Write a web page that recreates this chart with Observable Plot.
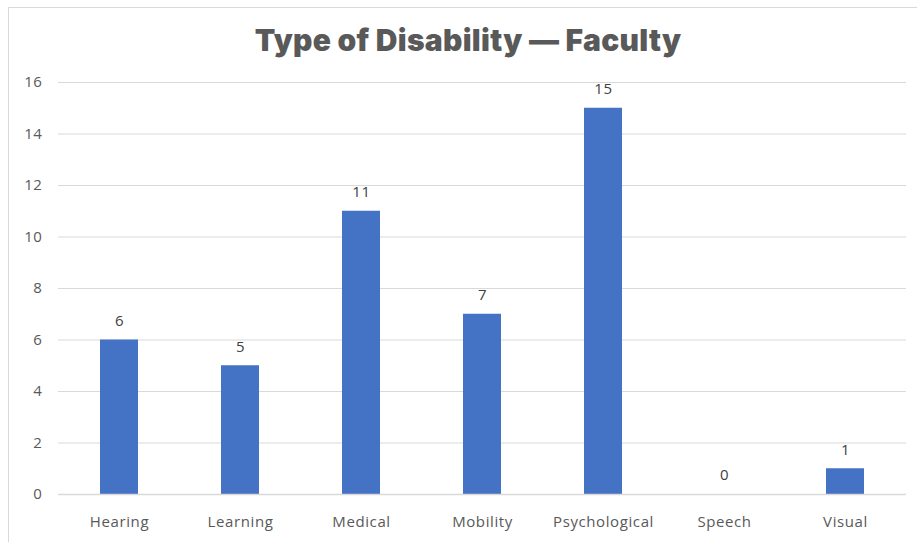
<!DOCTYPE html>
<html>
<head>
<meta charset="utf-8">
<script src="https://cdn.jsdelivr.net/npm/d3@7"></script>
<script src="https://cdn.jsdelivr.net/npm/@observablehq/plot@0.6"></script>
<style>
  html, body { margin: 0; padding: 0; background: #fff; }
  #wrap { position: relative; width: 917px; height: 542px; overflow: hidden; }
  #frame { position: absolute; left: 8px; top: 7px; width: 1000px; height: 1000px;
           border-left: 1.5px solid #d9d9d9; border-top: 1.5px solid #d9d9d9; box-sizing: border-box; }
  #title { position: absolute; left: 0; width: 936px; top: 22px; text-align: center;
           font-family: Inter, "DejaVu Sans", sans-serif; font-weight: 900; font-size: 30px;
           color: #595959; letter-spacing: 0.3px; }
  #chart { position: absolute; left: 0; top: 0; }
</style>
</head>
<body>
<div id="wrap">
  <div id="frame"></div>
  <div id="chart"></div>
  <div id="title">Type of Disability — Faculty</div>
</div>
<script>
const categories = ["Hearing", "Learning", "Medical", "Mobility", "Psychological", "Speech", "Visual"];
const values = [6, 5, 11, 7, 15, 0, 1];
const yTicks = [0, 2, 4, 6, 8, 10, 12, 14, 16];

const data = categories.map((c, i) => ({category: c, value: values[i]}));

const chart = Plot.plot({
  width: 917,
  height: 542,
  marginLeft: 58,
  marginRight: 11,
  marginTop: 82,
  marginBottom: 48,
  style: {fontFamily: "'Open Sans', 'Liberation Sans', sans-serif", fontSize: "15px", color: "#595959", background: "transparent", letterSpacing: "0.6px"},
  x: {domain: categories, paddingInner: 0.686, paddingOuter: 0.343, label: null, tickSize: 0, tickPadding: 22},
  y: {domain: [0, 16], ticks: yTicks, label: null, tickSize: 0, tickPadding: 16},
  marks: [
    Plot.gridY(yTicks, {stroke: "#d9d9d9", strokeOpacity: 1, strokeWidth: 1.2}),
    Plot.barY(data, {x: "category", y: "value", fill: "#4472C4"}),
    Plot.ruleY([0], {stroke: "#d9d9d9", strokeWidth: 1.5}),
    Plot.text(data, {x: "category", y: "value", text: d => String(d.value), dy: -19,
      fill: "#404040", fontSize: 15, lineAnchor: "middle"})
  ]
});
document.getElementById("chart").appendChild(chart);
</script>
</body>
</html>
